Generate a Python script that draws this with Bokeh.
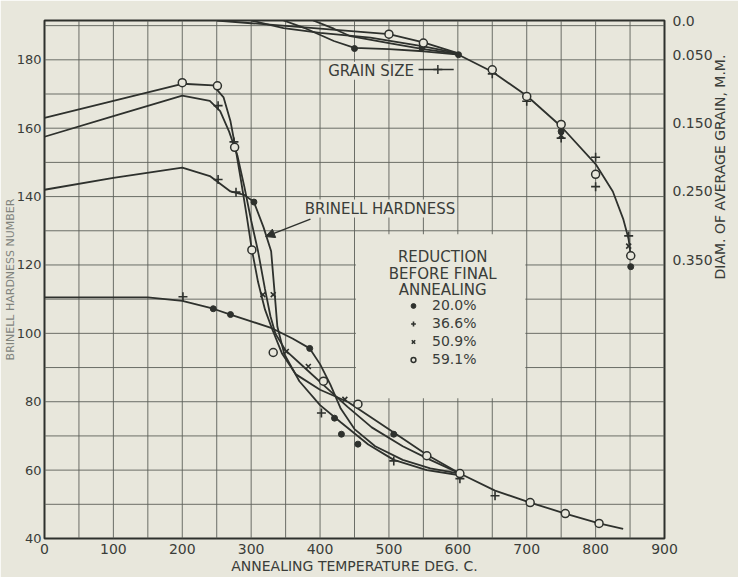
import math
from bokeh.plotting import figure
from bokeh.models import (Range1d, LinearAxis, FixedTicker, Label, Arrow, NormalHead,
                          Legend, LegendItem, NumeralTickFormatter)
from bokeh.embed import file_html
from bokeh.resources import INLINE

# ---------------- data ----------------
# Brinell hardness curves (annealing temperature deg C, hardness)
hard_T_20 = [0, 150, 200, 245, 270, 300, 330, 360, 385, 400, 415, 430, 450, 480, 520, 560, 603]
hard_H_20 = [110.5, 110.5, 109.5, 107.2, 105.5, 103.5, 101.5, 98.5, 95.6, 91, 85, 78, 72, 67, 63, 60.5, 59]
hard_T_36 = [0, 100, 200, 240, 270, 290, 304, 318, 329, 334, 338, 348, 370, 400, 430, 470, 507, 555, 603]
hard_H_36 = [142, 145.5, 148.5, 146, 141.5, 140.5, 138.4, 131, 124, 112, 102, 94, 86, 79, 74, 67.5, 63, 60, 58.5]
hard_T_50 = [0, 100, 200, 240, 255, 268, 280, 290, 300, 310, 320, 328, 335, 350, 380, 410, 440, 475, 520, 560, 603]
hard_H_50 = [157.5, 163.5, 169.5, 168, 165, 159, 152, 143, 133, 124, 113, 105, 100, 95, 89.5, 84, 78.5, 72.5, 67, 63, 59]
hard_T_59 = [0, 100, 200, 245, 260, 270, 277, 285, 293, 301, 310, 320, 330, 345, 365, 400, 440, 470, 507, 555, 603, 654, 705, 756, 805, 840]
hard_H_59 = [163, 168, 173, 172.5, 169, 162, 154.5, 145, 135, 124.5, 115, 107, 101.5, 94, 88, 83.5, 80, 76, 71, 64.5, 59, 54, 50.5, 47.3, 44.4, 42.8]

# hardness test points, by marker
pts_T_20 = [245, 270, 304, 385, 421, 431, 455, 507]
pts_H_20 = [107.2, 105.5, 138.4, 95.6, 75.2, 70.5, 67.6, 70.5]
pts_T_36 = [201, 252, 252, 275, 278, 402, 507, 603, 654]
pts_H_36 = [110.7, 166.6, 145, 156, 141.3, 76.7, 62.7, 57.5, 52.5]
pts_T_50 = [317, 332, 351, 383, 436]
pts_H_50 = [111.3, 111.3, 94.7, 90.3, 80.7]
pts_T_59 = [200, 251, 276, 301, 332, 405, 455, 555, 603, 705, 756, 805]
pts_H_59 = [173.3, 172.4, 154.4, 124.4, 94.4, 86, 79.3, 64.2, 59, 50.5, 47.3, 44.4]

# grain size curves (deg C, diameter of average grain mm)
grain_T_20 = [347, 380, 420, 450, 500, 550, 601]
grain_D_20 = [0.0, 0.012, 0.030, 0.040, 0.042, 0.045, 0.050]
grain_T_36 = [390, 420, 444, 500, 550, 601]
grain_D_36 = [0.0, 0.012, 0.023, 0.033, 0.042, 0.049]
grain_T_50 = [300, 347, 400, 473, 550, 601]
grain_D_50 = [0.0, 0.011, 0.018, 0.025, 0.038, 0.048]
grain_T_59 = [250, 300, 350, 400, 450, 500, 550, 601]
grain_D_59 = [0.0, 0.004, 0.008, 0.012, 0.016, 0.020, 0.032, 0.048]
grain_T_all = [601, 650, 700, 750, 800, 825, 840, 848, 851]
grain_D_all = [0.050, 0.075, 0.110, 0.155, 0.210, 0.250, 0.290, 0.320, 0.345]

gpts_T_20 = [450, 548, 601, 750, 851]
gpts_D_20 = [0.041, 0.040, 0.050, 0.162, 0.360]
gpts_T_36 = [650, 700, 750, 800, 800, 848]
gpts_D_36 = [0.078, 0.118, 0.172, 0.200, 0.243, 0.315]
gpts_T_50 = [750, 848]
gpts_D_50 = [0.168, 0.330]
gpts_T_59 = [500, 550, 650, 700, 750, 800, 851]
gpts_D_59 = [0.020, 0.033, 0.072, 0.111, 0.152, 0.225, 0.344]

x_ticks = list(range(0, 901, 100))
y_ticks = list(range(40, 181, 20))
x_grid = list(range(50, 900, 50))
y_grid = list(range(50, 191, 10))
grain_ticks = [0.0, 0.05, 0.15, 0.25, 0.35]
legend_labels = ["20.0%", "36.6%", "50.9%", "59.1%"]

# ---------------- styling ----------------
BG = "#e8e7dc"
INK = "#2e312d"
GRID = "#5d615a"
TXT = "#3a3d39"
FONT = "DejaVu Sans"
FS = "14px"
FS_NOTE = "15px"

X0, X1, Y0, Y1 = 0, 900, 40, 191.5

p = figure(frame_width=620, frame_height=518,
           min_border_left=44, min_border_right=74, min_border_top=20, min_border_bottom=39,
           x_range=Range1d(X0, X1), y_range=Range1d(Y0, Y1),
           output_backend="svg", toolbar_location=None,
           background_fill_color=BG, border_fill_color=BG)
p.extra_y_ranges = {"grain": Range1d(start=0.7575, end=0.0)}
p.grid.visible = False

p.outline_line_color = INK
p.outline_line_width = 2

# grid lines (every 50 deg, every 10 hardness units), drawn first so curves lie on top
p.segment(x0=x_grid, y0=[Y0] * len(x_grid), x1=x_grid, y1=[Y1] * len(x_grid),
          line_color=GRID, line_width=1, line_alpha=0.9)
p.segment(x0=[X0] * len(y_grid), y0=y_grid, x1=[X1] * len(y_grid), y1=y_grid,
          line_color=GRID, line_width=1, line_alpha=0.9)
# blank panel behind the legend (grid interrupted in the original)
p.quad(left=[452], right=[698], bottom=[81], top=[129], fill_color=BG, line_color=None)

def style_axis(ax):
    ax.axis_line_color = None
    ax.major_tick_line_color = None
    ax.minor_tick_line_color = None
    ax.major_tick_out = 0
    ax.major_tick_in = 0
    ax.minor_tick_out = 0
    ax.minor_tick_in = 0
    ax.major_label_text_font = FONT
    ax.major_label_text_font_size = FS
    ax.major_label_text_color = TXT
    ax.axis_label_text_font = FONT
    ax.axis_label_text_font_size = FS
    ax.axis_label_text_font_style = "normal"
    ax.axis_label_text_color = TXT

p.xaxis.ticker = FixedTicker(ticks=x_ticks)
p.xaxis.axis_label = "ANNEALING TEMPERATURE DEG. C."
style_axis(p.xaxis[0])
p.xaxis.axis_label_standoff = 1
p.xaxis.major_label_standoff = 5

p.yaxis.ticker = FixedTicker(ticks=y_ticks)
p.yaxis.axis_label = "BRINELL HARDNESS NUMBER"
style_axis(p.yaxis[0])
p.yaxis.major_label_text_font_size = "13px"
p.yaxis.major_label_standoff = 3
p.yaxis.axis_label_standoff = -3
p.yaxis.axis_label_text_font_size = "11px"
p.yaxis.axis_label_text_color = "#80837c"

raxis = LinearAxis(y_range_name="grain", ticker=FixedTicker(ticks=grain_ticks),
                   formatter=NumeralTickFormatter(format="0.000"),
                   major_label_overrides={0: "0.0"},
                   axis_label="DIAM. OF AVERAGE GRAIN, M.M.")
style_axis(raxis)
raxis.major_label_standoff = 8
raxis.axis_label_standoff = 4
try:
    raxis.axis_label_orientation = math.pi / 2
except Exception:
    pass
p.add_layout(raxis, "right")

LW = 1.8
# hardness curves
for T, H in ((hard_T_20, hard_H_20), (hard_T_36, hard_H_36), (hard_T_50, hard_H_50), (hard_T_59, hard_H_59)):
    p.line(T, H, line_color=INK, line_width=LW)
# grain curves
for T, D in ((grain_T_20, grain_D_20), (grain_T_36, grain_D_36), (grain_T_50, grain_D_50),
             (grain_T_59, grain_D_59), (grain_T_all, grain_D_all)):
    p.line(T, D, line_color=INK, line_width=LW, y_range_name="grain")

def markers(T, V, kind, rng=None):
    kw = {}
    if rng:
        kw["y_range_name"] = rng
    if kind == "dot":
        return p.scatter(T, V, marker="circle", size=6, fill_color=INK, line_color=INK, **kw)
    if kind == "plus":
        return p.scatter(T, V, marker="cross", size=9, line_color=INK, line_width=1.6, **kw)
    if kind == "x":
        return p.scatter(T, V, marker="x", size=7, line_color=INK, line_width=1.6, **kw)
    return p.scatter(T, V, marker="circle", size=8, fill_color=BG, line_color=INK, line_width=1.5, **kw)

r20 = markers(pts_T_20, pts_H_20, "dot")
r36 = markers(pts_T_36, pts_H_36, "plus")
r50 = markers(pts_T_50, pts_H_50, "x")
r59 = markers(pts_T_59, pts_H_59, "o")
markers(gpts_T_20, gpts_D_20, "dot", "grain")
markers(gpts_T_36, gpts_D_36, "plus", "grain")
markers(gpts_T_50, gpts_D_50, "x", "grain")
markers(gpts_T_59, gpts_D_59, "o", "grain")

# text annotations
def label(x, y, text, size=FS_NOTE, **kw):
    lab = Label(x=x, y=y, text=text, text_font=FONT, text_font_size=size,
                text_color=kw.pop("color", TXT), text_align=kw.pop("align", "center"),
                text_baseline="middle", **kw)
    p.add_layout(lab)
    return lab

label(474, 176.8, "GRAIN SIZE", background_fill_color=BG)
p.line([543, 594], [177.2, 177.2], line_color=INK, line_width=1.5)
p.scatter([571], [177.2], marker="cross", size=9, line_color=INK, line_width=1.5)

label(487, 136.5, "BRINELL HARDNESS", background_fill_color=BG)
p.add_layout(Arrow(end=NormalHead(size=9, fill_color=INK, line_color=INK),
                   x_start=386, y_start=133.4, x_end=321, y_end=128.3,
                   line_color=INK, line_width=1.5))

label(578, 122.2, "REDUCTION")
label(578, 117.5, "BEFORE FINAL")
label(578, 112.8, "ANNEALING")

legend = Legend(items=[LegendItem(label=legend_labels[0], renderers=[r20]),
                       LegendItem(label=legend_labels[1], renderers=[r36]),
                       LegendItem(label=legend_labels[2], renderers=[r50]),
                       LegendItem(label=legend_labels[3], renderers=[r59])],
                location=(363, 171), background_fill_alpha=0, border_line_color=None,
                label_text_font=FONT, label_text_font_size="14px", label_text_color=TXT,
                glyph_width=12, glyph_height=13, label_height=13, label_standoff=13,
                spacing=2, padding=2, margin=0)
p.add_layout(legend, "center")

open("out.html", "w").write(file_html(p, INLINE))
